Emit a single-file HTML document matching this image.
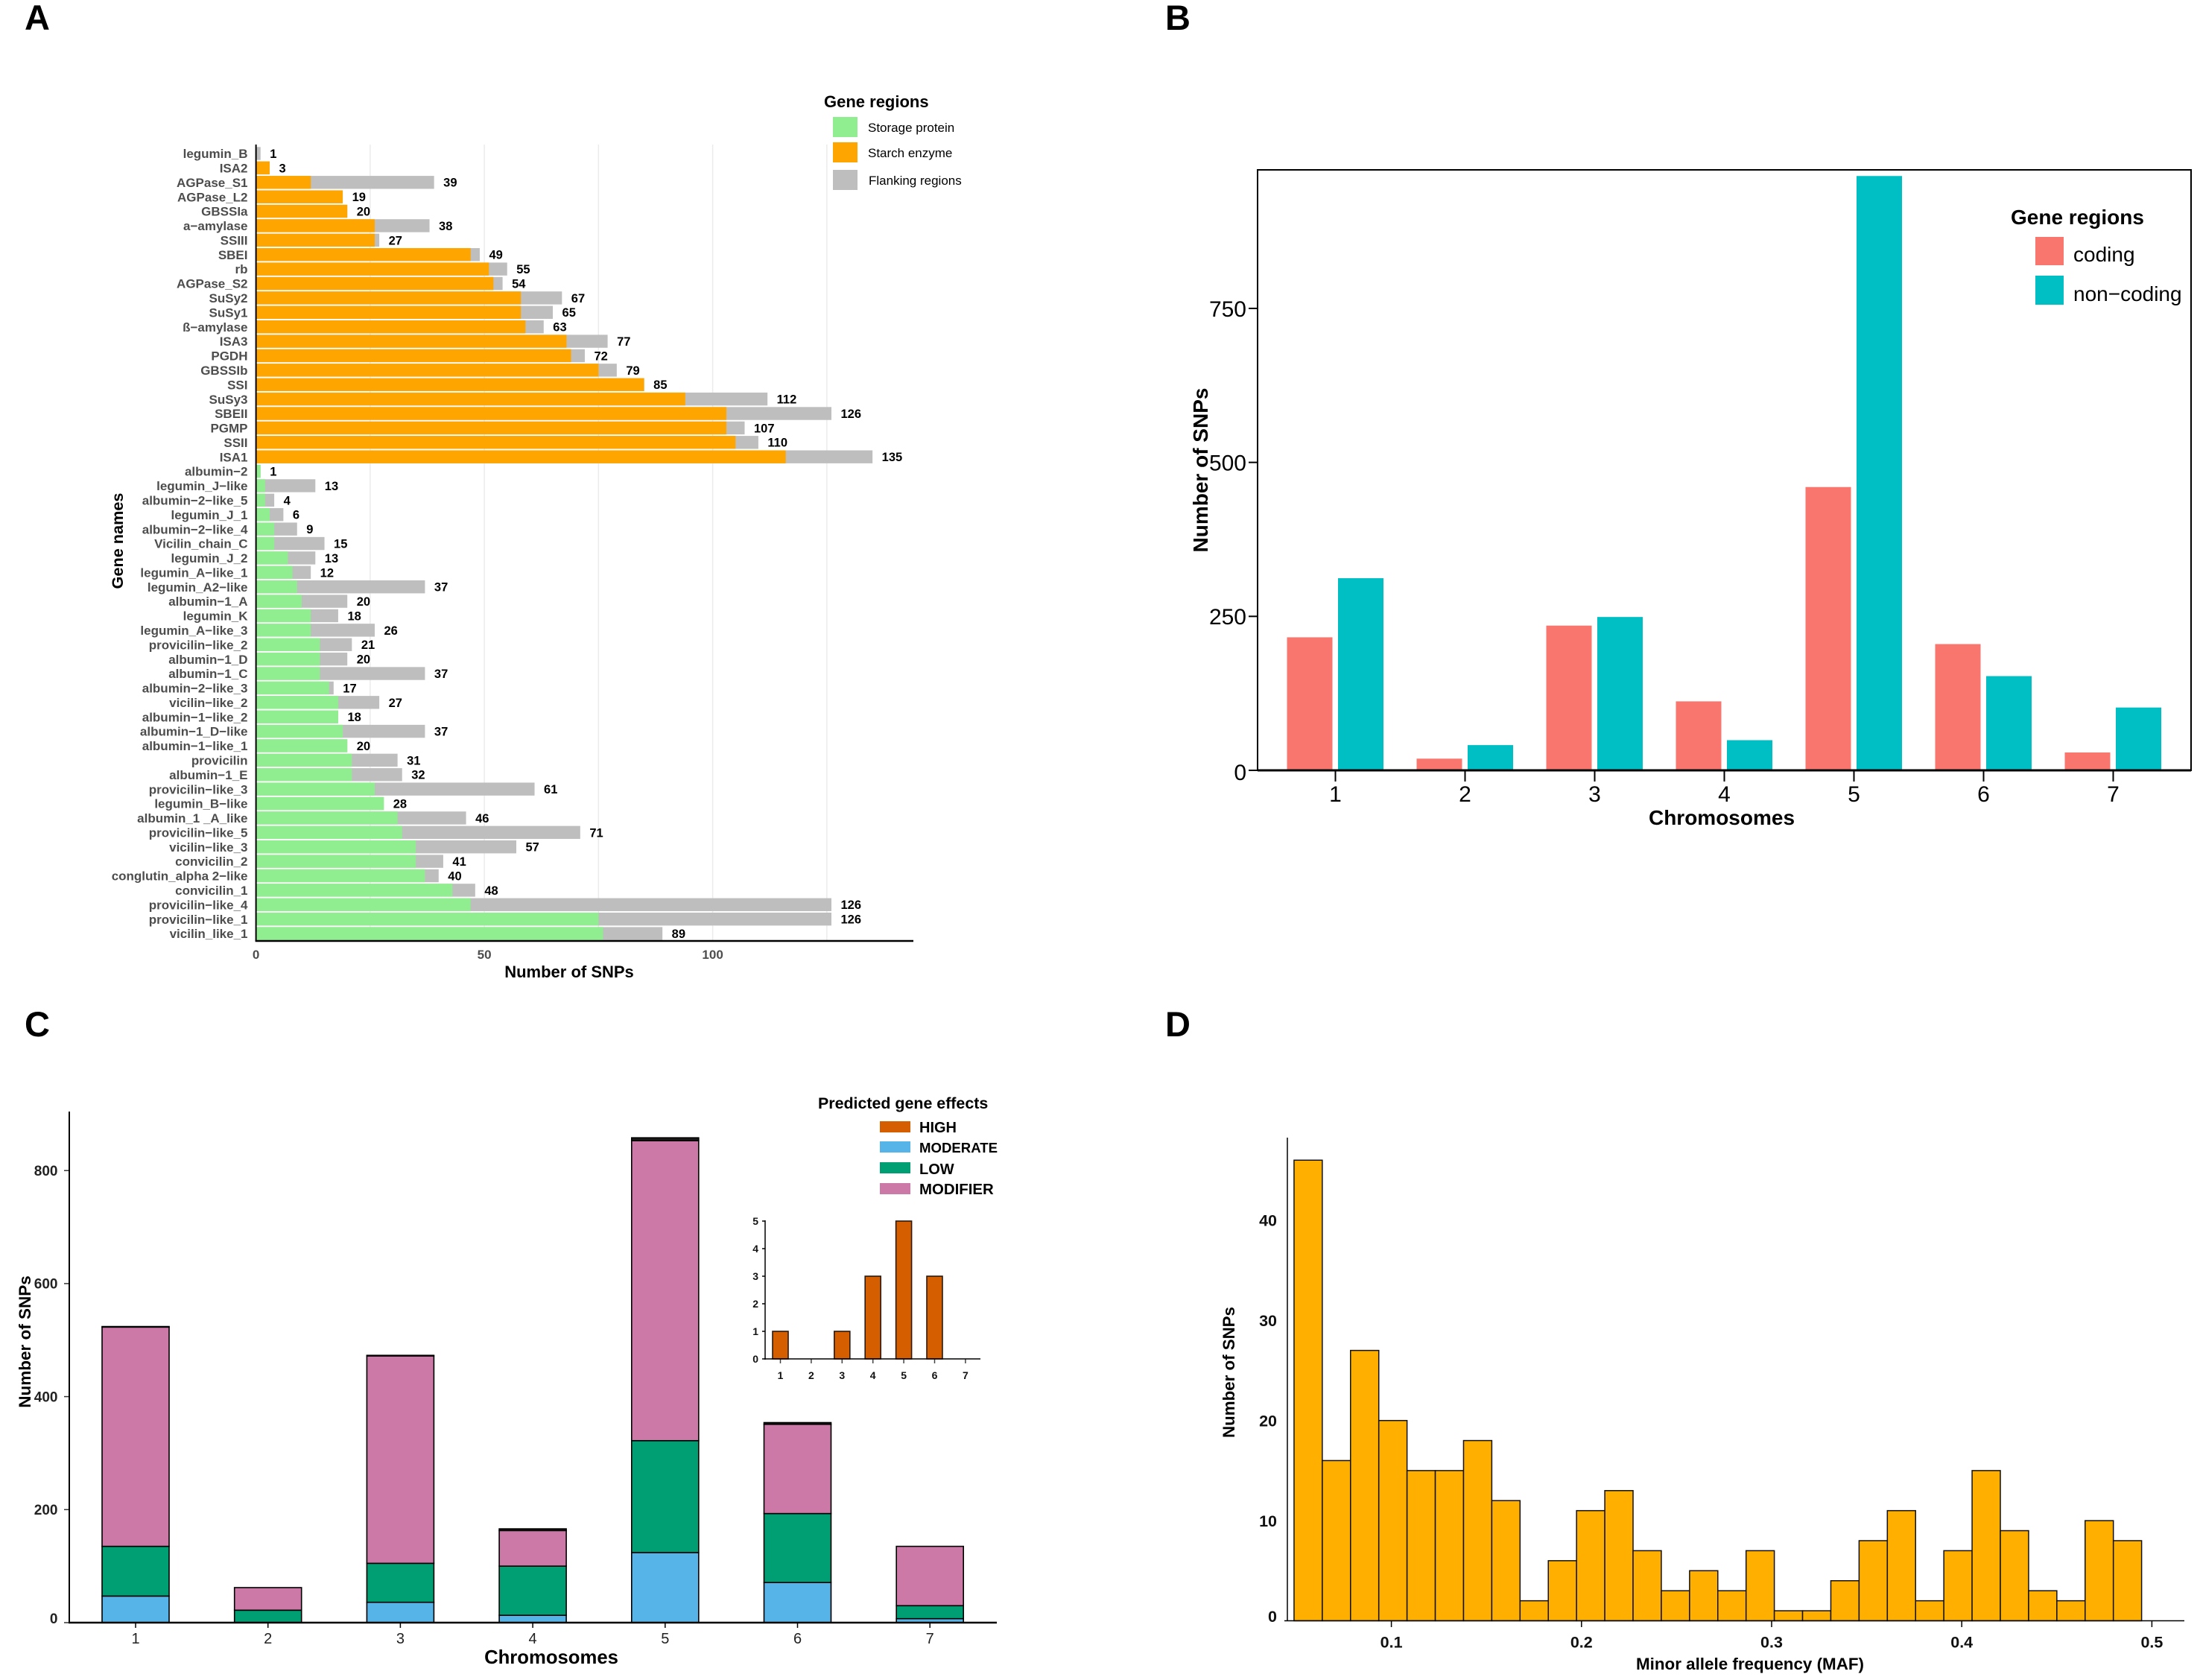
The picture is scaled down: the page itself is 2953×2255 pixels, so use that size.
<!DOCTYPE html>
<html lang="en"><head><meta charset="utf-8"><title>SNP distribution figure</title>
<style>
html,body{margin:0;padding:0;background:#fff}
svg{display:block}
text{font-family:"Liberation Sans",sans-serif}
.b{font-weight:bold}
</style></head>
<body>
<svg id="fig" xmlns="http://www.w3.org/2000/svg" width="2953" height="2255" viewBox="0 0 2953 2255">
<rect width="2953" height="2255" fill="#fff"/>
<text class="b" x="33" y="40" font-size="47">A</text>
<text class="b" x="1564" y="40" font-size="47">B</text>
<text class="b" x="33" y="1391" font-size="47">C</text>
<text class="b" x="1564" y="1391" font-size="47">D</text>

<g id="panelA"></g>
<g>
<text class="b" x="1106" y="144" font-size="22">Gene regions</text>
<rect x="1118" y="157" width="33" height="27" fill="#90EE90"/>
<rect x="1118" y="191" width="33" height="27" fill="#FFA500"/>
<rect x="1118" y="228" width="33" height="27" fill="#BEBEBE"/>
<text x="1165" y="177" font-size="17">Storage protein</text>
<text x="1165" y="211" font-size="17">Starch enzyme</text>
<text x="1166" y="248" font-size="17">Flanking regions</text>
</g>
<text class="b" x="764" y="1312" font-size="22" text-anchor="middle">Number of SNPs</text>
<text class="b" transform="translate(165,726) rotate(-90)" font-size="21.7" text-anchor="middle">Gene names</text>

<g id="panelB"></g>
<g>
<text class="b" x="2699" y="301" font-size="28">Gene regions</text>
<rect x="2732" y="318" width="38" height="38" fill="#F8766D"/>
<rect x="2732" y="370" width="38" height="39" fill="#00BFC4"/>
<text x="2783" y="351" font-size="28">coding</text>
<text x="2783" y="404" font-size="28">non−coding</text>
</g>
<text class="b" x="2311" y="1107" font-size="28" text-anchor="middle">Chromosomes</text>
<text class="b" transform="translate(1621,631) rotate(-90)" font-size="28" text-anchor="middle">Number of SNPs</text>

<g id="panelC"></g>
<g>
<text class="b" x="1098" y="1488" font-size="21.4">Predicted gene effects</text>
<rect x="1181" y="1505" width="41" height="15" fill="#D55E00"/>
<rect x="1181" y="1532" width="41" height="15" fill="#56B4E9"/>
<rect x="1181" y="1560" width="41" height="15" fill="#009E73"/>
<rect x="1181" y="1588" width="41" height="15" fill="#CC79A7"/>
<text class="b" x="1234" y="1520" font-size="20">HIGH</text>
<text class="b" x="1234" y="1547" font-size="18.6">MODERATE</text>
<text class="b" x="1234" y="1576" font-size="20">LOW</text>
<text class="b" x="1234" y="1603" font-size="20.4">MODIFIER</text>
</g>
<text class="b" x="740" y="2233" font-size="25.7" text-anchor="middle">Chromosomes</text>
<text class="b" transform="translate(41,1801) rotate(-90)" font-size="22.5" text-anchor="middle">Number of SNPs</text>
<g id="panelCInset"></g>

<g id="panelD"></g>
<text class="b" x="2349" y="2241" font-size="22.4" text-anchor="middle">Minor allele frequency (MAF)</text>
<text class="b" transform="translate(1657,1842) rotate(-90)" font-size="22.3" text-anchor="middle">Number of SNPs</text>
</svg>
<script>
// ---------- Panel A data ----------
const geneNames = ["legumin_B","ISA2","AGPase_S1","AGPase_L2","GBSSIa","a−amylase","SSIII","SBEI","rb","AGPase_S2","SuSy2","SuSy1","ß−amylase","ISA3","PGDH","GBSSIb","SSI","SuSy3","SBEII","PGMP","SSII","ISA1","albumin−2","legumin_J−like","albumin−2−like_5","legumin_J_1","albumin−2−like_4","Vicilin_chain_C","legumin_J_2","legumin_A−like_1","legumin_A2−like","albumin−1_A","legumin_K","legumin_A−like_3","provicilin−like_2","albumin−1_D","albumin−1_C","albumin−2−like_3","vicilin−like_2","albumin−1−like_2","albumin−1_D−like","albumin−1−like_1","provicilin","albumin−1_E","provicilin−like_3","legumin_B−like","albumin_1 _A_like","provicilin−like_5","vicilin−like_3","convicilin_2","conglutin_alpha 2−like","convicilin_1","provicilin−like_4","provicilin−like_1","vicilin_like_1"];
const geneGroups = ["storage","starch","starch","starch","starch","starch","starch","starch","starch","starch","starch","starch","starch","starch","starch","starch","starch","starch","starch","starch","starch","starch","storage","storage","storage","storage","storage","storage","storage","storage","storage","storage","storage","storage","storage","storage","storage","storage","storage","storage","storage","storage","storage","storage","storage","storage","storage","storage","storage","storage","storage","storage","storage","storage","storage"];
const geneRegionSnps = [0,3,12,19,20,26,26,47,51,52,58,58,59,68,69,75,85,94,103,103,105,116,1,2,2,3,4,4,7,8,9,10,12,12,14,14,14,16,18,18,19,20,21,21,26,28,31,32,35,35,37,43,47,75,76];
const geneTotalSnps = [1,3,39,19,20,38,27,49,55,54,67,65,63,77,72,79,85,112,126,107,110,135,1,13,4,6,9,15,13,12,37,20,18,26,21,20,37,17,27,18,37,20,31,32,61,28,46,71,57,41,40,48,126,126,89];
const geneTicks = [0,50,100];
const geneGrid = [25,50,75,100,125];
// ---------- Panel B data ----------
const chromosomes = [1,2,3,4,5,6,7];
const codingSnps = [216,19,235,112,460,205,29];
const nonCodingSnps = [312,41,249,49,965,153,102];
const regionTicks = [0,250,500,750];
// ---------- Panel C data ----------
const moderateSnps = [47,0,36,13,124,71,7];
const lowSnps = [88,22,69,87,198,122,23];
const modifierSnps = [388,40,367,63,531,158,105];
const highSnps = [1,0,1,3,5,3,0];
const effectTicks = [0,200,400,600,800];
const insetTicks = [0,1,2,3,4,5];
// ---------- Panel D data ----------
const mafCounts = [46,16,27,20,15,15,18,12,2,6,11,13,7,3,5,3,7,1,1,4,8,11,2,7,15,9,3,2,10,8];
const mafBinStart = 0.0488;
const mafBinWidth = 0.01486;
const mafTicks = [0.1,0.2,0.3,0.4,0.5];
const mafCountTicks = [0,10,20,30,40];

const NS = 'http://www.w3.org/2000/svg';
function mk(tag, attrs, parent, txt){
  const e = document.createElementNS(NS, tag);
  for (const k in attrs) e.setAttribute(k, attrs[k]);
  if (txt !== undefined) e.textContent = txt;
  parent.appendChild(e);
  return e;
}
function line(x1,y1,x2,y2,color,w,parent){
  return mk('line',{x1:x1,y1:y1,x2:x2,y2:y2,stroke:color,'stroke-width':w},parent);
}
function txt(x,y,s,size,anchor,color,bold,parent){
  const t = mk('text',{x:x,y:y+size*0.36,'font-size':size,'text-anchor':anchor,fill:color},parent,s);
  if (bold) t.setAttribute('font-weight','bold');
  return t;
}

// ---------- Panel A ----------
(function(){
  const g = document.getElementById('panelA');
  const xA = v => 343.6 + v*6.13;
  const yA = i => 206 + i*19.39;
  geneGrid.forEach(v=>{
    const l = line(xA(v),194,xA(v),1262,'#ebebeb',1.5,g);
    
    
  });
  geneNames.forEach((name,i)=>{
    const y = yA(i);
    const fill = geneGroups[i]==='starch' ? '#FFA500' : '#90EE90';
    const total = mk('rect',{x:xA(0),y:y-8.7,width:xA(geneTotalSnps[i])-xA(0),height:17.4,fill:'#BEBEBE'},g);
    
    
    const seg = mk('rect',{x:xA(0),y:y-8.7,width:xA(geneRegionSnps[i])-xA(0),height:17.4,fill:fill},g);
    
    
    const lab = txt(332.5,y,name,17,'end','#4d4d4d',true,g);
    
    
    const val = txt(xA(geneTotalSnps[i])+12.5,y,String(geneTotalSnps[i]),16.5,'start','#000',true,g);
    
    
  });
  const ya = line(xA(0),194,xA(0),1263,'#000',2,g);
  
  
  const xa = line(xA(0)-1,1263,1226,1263,'#000',2.5,g);
  
  
  geneTicks.forEach(v=>{
    const t = txt(xA(v),1281,String(v),17,'middle','#4d4d4d',true,g);
    
    
  });
})();

// ---------- Panel B ----------
(function(){
  const g = document.getElementById('panelB');
  const xB = c => 1792.5 + (c-1)*174;
  const yB = v => 1034 - v*0.8267;
  const box = mk('rect',{x:1688,y:228,width:1253,height:806,fill:'none',stroke:'#000','stroke-width':2},g);
  
  
  chromosomes.forEach((c,i)=>{
    const a = mk('rect',{x:xB(c)-65,y:yB(codingSnps[i]),width:61,height:yB(0)-yB(codingSnps[i]),fill:'#F8766D'},g);
    
    
    const b = mk('rect',{x:xB(c)+3.5,y:yB(nonCodingSnps[i]),width:61,height:yB(0)-yB(nonCodingSnps[i]),fill:'#00BFC4'},g);
    
    
    const tk = line(xB(c),1034,xB(c),1049,'#000',2,g);
    
    
    const t = txt(xB(c),1065,String(c),30,'middle','#000',false,g);
    
    
  });
  regionTicks.forEach(v=>{
    const tk = line(1676,yB(v),1688,yB(v),'#000',2,g);
    
    
    const t = txt(1673,yB(v)+(v===0?2:0),String(v),30,'end','#000',false,g);
    
    
  });
  const base = line(1688,1034,2941,1034,'#000',3,g);
  
  
})();

// ---------- Panel C ----------
(function(){
  const g = document.getElementById('panelC');
  const xC = c => 182 + (c-1)*177.7;
  const yC = v => 2178 - v*0.7585;
  // The high-effect slice is only a few pixels tall here, so it reads as a dark cap, as in the source figure.
  const stacks = [[moderateSnps,'#56B4E9','moderate'],[lowSnps,'#009E73','low'],[modifierSnps,'#CC79A7','modifier'],[highSnps,'#1a1a1a','high']];
  chromosomes.forEach((c,i)=>{
    let base = 0;
    stacks.forEach(s=>{
      const v = s[0][i];
      if (v > 0) {
        const r = mk('rect',{x:xC(c)-45,y:yC(base+v),width:90,height:yC(base)-yC(base+v),fill:s[1],stroke:'#000','stroke-width':1.6},g);
        
        
      }
      base += v;
    });
    const tk = line(xC(c),2178,xC(c),2185,'#000',1.5,g);
    
    
    const t = txt(xC(c),2199,String(c),20,'middle','#222',false,g);
    
    
  });
  effectTicks.forEach(v=>{
    const tk = line(86,yC(v),93,yC(v),'#333',1.5,g);
    
    
    const t = txt(77.5,yC(v)-(v===0?6:0),String(v),19,'end','#222',true,g);
    
    
  });
  const ya = line(93,1492,93,2179,'#000',2,g);
  
  
  const xa = line(92,2178,1338,2178,'#000',2.5,g);
  
  
})();

// ---------- Panel C inset ----------
(function(){
  const g = document.getElementById('panelCInset');
  const xI = c => 1047.5 + (c-1)*41.4;
  const yI = v => 1824 - v*37;
  chromosomes.forEach((c,i)=>{
    if (highSnps[i] > 0) {
      const r = mk('rect',{x:xI(c)-10.5,y:yI(highSnps[i]),width:21,height:yI(0)-yI(highSnps[i]),fill:'#D55E00',stroke:'#2a1a10','stroke-width':1.6},g);
      
      
    }
    const tk = line(xI(c),1824,xI(c),1830,'#444',1.5,g);
    
    
    const t = txt(xI(c),1846,String(c),14,'middle','#111',true,g);
    
    
  });
  insetTicks.forEach(v=>{
    const tk = line(1023,yI(v),1027,yI(v),'#000',1.5,g);
    
    
    const t = txt(1018,yI(v),String(v),14,'end','#111',true,g);
    
    
  });
  const ya = line(1027,1638,1027,1825,'#000',1.5,g);
  
  
  const xa = line(1026,1824,1316,1824,'#000',1.5,g);
  
  
})();

// ---------- Panel D ----------
(function(){
  const g = document.getElementById('panelD');
  const xD = m => 1867.6 + (m-0.1)*2552;
  const yD = v => 2175.5 - v*13.44;
  mafCounts.forEach((v,i)=>{
    const x0 = xD(mafBinStart + i*mafBinWidth);
    const x1 = xD(mafBinStart + (i+1)*mafBinWidth);
    const r = mk('rect',{x:x0,y:yD(v),width:x1-x0,height:yD(0)-yD(v),fill:'#FFAF00',stroke:'#111','stroke-width':1.5},g);
    
    
  });
  mafTicks.forEach(m=>{
    const tk = line(xD(m),2175.5,xD(m),2184,'#000',1.5,g);
    
    
    const t = txt(xD(m),2204,m.toFixed(1),21.5,'middle','#111',true,g);
    
    
  });
  mafCountTicks.forEach(v=>{
    const t = txt(1714,yD(v)-(v===0?6:0),String(v),21.5,'end','#111',true,g);
    
    
  });
  const ya = line(1728,1527,1728,2176,'#000',1.5,g);
  
  
  const xa = line(1724,2175.5,2932,2175.5,'#000',1.5,g);
  
  
})();
</script>
</body></html>
